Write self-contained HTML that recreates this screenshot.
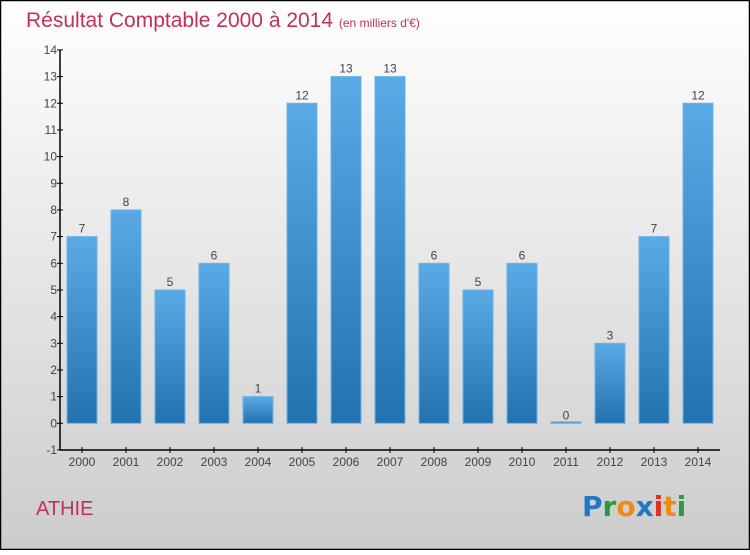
<!DOCTYPE html>
<html><head><meta charset="utf-8"><style>
html,body{margin:0;padding:0}
body{width:750px;height:550px;overflow:hidden;font-family:"Liberation Sans",sans-serif}
</style></head><body>
<svg id="chart" width="750" height="550" xmlns="http://www.w3.org/2000/svg">
<defs>
<linearGradient id="bg" x1="0" y1="0" x2="0" y2="1"><stop offset="0" stop-color="#ffffff"/><stop offset="1" stop-color="#cccccc"/></linearGradient>
<linearGradient id="bar" x1="0" y1="0" x2="0" y2="1"><stop offset="0" stop-color="#5aaae6"/><stop offset="1" stop-color="#2272b0"/></linearGradient>
</defs>
<rect x="0.5" y="0.5" width="749" height="549" fill="url(#bg)" stroke="#000" stroke-width="1.5"/>
<text x="26" y="27" font-size="21" fill="#c0305a">Résultat Comptable 2000 à 2014 <tspan font-size="12">(en milliers d'€)</tspan></text>
<text x="36" y="515" font-size="20" fill="#c0305a">ATHIE</text>
<g font-size="28" font-weight="bold" font-family="'DejaVu Sans',sans-serif">
<text x="582" y="516"><tspan fill="#1f78c8">P</tspan><tspan fill="#2a9a3a">r</tspan><tspan fill="#f08a10">o</tspan><tspan fill="#1f78c8">x</tspan><tspan fill="#e03020">i</tspan><tspan fill="#f08a10">t</tspan><tspan fill="#2a9a3a">i</tspan></text>
</g>
<g id="axes"></g>
<g id="bars"></g>
</svg>
<script>
const years=["2000","2001","2002","2003","2004","2005","2006","2007","2008","2009","2010","2011","2012","2013","2014"];
const values=[7,8,5,6,1,12,13,13,6,5,6,0,3,7,12];
const yTicks=[-1,0,1,2,3,4,5,6,7,8,9,10,11,12,13,14];
const NS="http://www.w3.org/2000/svg";
const y=v=>423.3-(v)*26.67;
const x=i=>82+i*44;
function mk(t,a,p){const e=document.createElementNS(NS,t);for(const k in a)e.setAttribute(k,a[k]);p.appendChild(e);return e;}
const ax=document.getElementById('axes'),bg=document.getElementById('bars');
const yl=mk('line',{x1:60,y1:y(14),x2:60,y2:y(-1),stroke:'#000','stroke-width':1.5},ax);


const xl=mk('line',{x1:60,y1:y(-1),x2:720,y2:y(-1),stroke:'#000','stroke-width':1.5},ax);


yTicks.forEach(t=>{
 mk('line',{x1:57,x2:63,y1:y(t),y2:y(t),stroke:'#000'},ax);
 const tx=mk('text',{x:57,y:y(t)+4,'font-size':12,fill:'#444','text-anchor':'end'},ax);
 tx.textContent=t;
 
 
});
years.forEach((yr,i)=>{
 mk('line',{x1:x(i),x2:x(i),y1:y(-1)-3,y2:y(-1)+3,stroke:'#000'},ax);
 const tx=mk('text',{x:x(i),y:466,'font-size':12,fill:'#444','text-anchor':'middle'},ax);
 tx.textContent=yr;
 
 
 const v=values[i];const top=y(v),h=Math.max(y(0)-top,1.5);
 const r=mk('rect',{x:x(i)-15,y:Math.min(top,y(0)-1.5),width:30,height:h,fill:'url(#bar)',stroke:'#6ab4ea','stroke-width':1},bg);
 
 
 const lb=mk('text',{x:x(i),y:top-4,'font-size':12,fill:'#444','text-anchor':'middle'},bg);
 lb.textContent=v;
 
 
});
</script>
</body></html>
